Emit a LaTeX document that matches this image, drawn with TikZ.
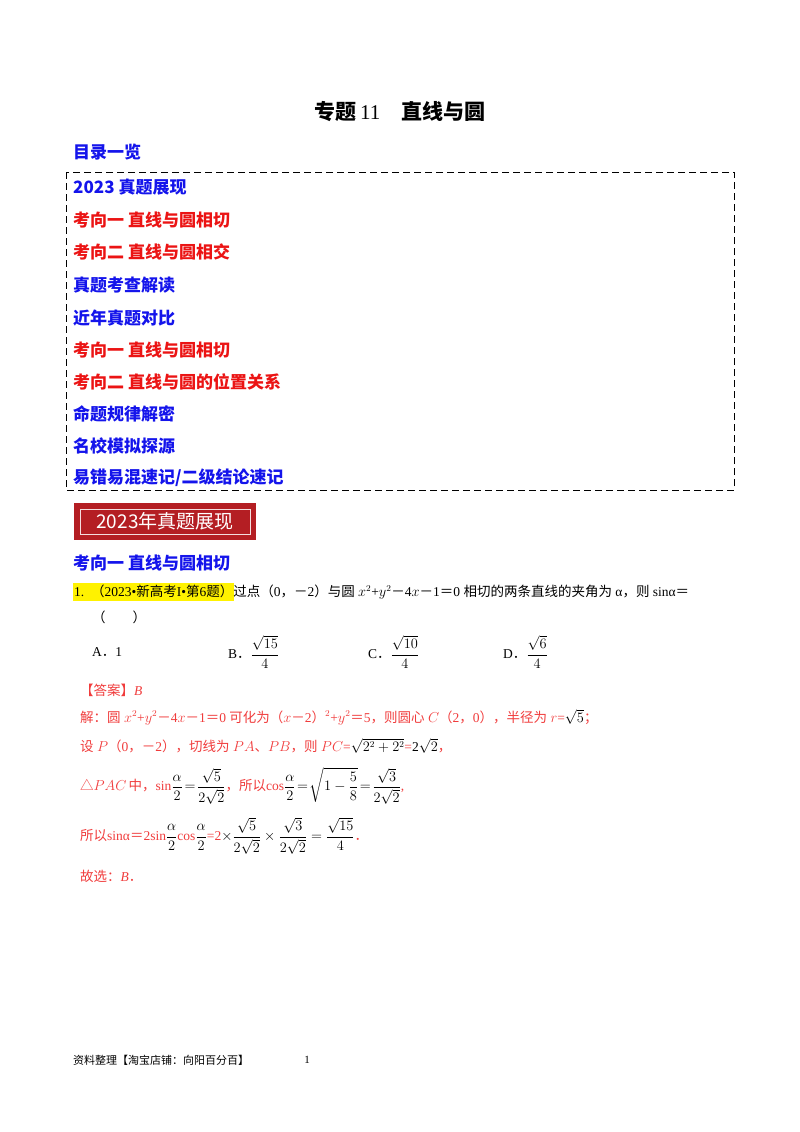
\documentclass[tikz,border=0pt]{standalone}
\usepackage{fontspec}
\usepackage{amsmath}
\setmainfont{Liberation Serif}
\newfontfamily\cjk{Noto Sans CJK SC}
\newcommand\zh[1]{{\cjk #1}}
\definecolor{tblue}{RGB}{20,20,235}
\definecolor{tred}{RGB}{235,20,20}
\definecolor{ared}{RGB}{240,60,60}
\definecolor{ban}{RGB}{180,30,35}
\begin{document}
\begin{tikzpicture}[x=1pt,y=-1pt,
  toc/.style={anchor=west,inner sep=0,font=\cjk\bfseries\fontsize{17}{17}\selectfont},
  body/.style={anchor=west,inner sep=0,font=\fontsize{13.5}{13.5}\selectfont},
  ans/.style={anchor=west,inner sep=0,text=ared,font=\fontsize{13.5}{13.5}\selectfont}]
\useasboundingbox (0,0) rectangle (800,1132);
\node (title) at (400,112) {\cjk\bfseries\fontsize{21}{21}\selectfont 专题\,\rmfamily\mdseries 11\quad\cjk\bfseries 直线与圆};
\node[toc,text=tblue] (mulu) at (73,152) {目录一览};
\draw[thick,dash pattern=on 7pt off 4pt] (66,172) rectangle (734,490);
\node[toc,text=tblue] (t1) at (73,187) {2023 真题展现};
\node[toc,text=tred] (t2) at (73,220) {考向一\ 直线与圆相切};
\node[toc,text=tred] (t3) at (73,252) {考向二\ 直线与圆相交};
\node[toc,text=tblue] (t4) at (73,285) {真题考查解读};
\node[toc,text=tblue] (t5) at (73,318) {近年真题对比};
\node[toc,text=tred] (t6) at (73,350) {考向一\ 直线与圆相切};
\node[toc,text=tred] (t7) at (73,382) {考向二\ 直线与圆的位置关系};
\node[toc,text=tblue] (t8) at (73,414) {命题规律解密};
\node[toc,text=tblue] (t9) at (73,446) {名校模拟探源};
\node[toc,text=tblue] (t10) at (73,478) {易错易混速记/二级结论速记};
% banner
\fill[ban] (74,503) rectangle (256,540);
\draw[ban,line width=1.2] (78,507) -- (252,507) -- (252,512) -- (255,512) -- (255,531) -- (252,531) -- (252,536) -- (78,536) -- (78,531) -- (75,531) -- (75,512) -- (78,512) -- cycle;
\draw[white!85!ban,line width=0.8] (80,509) rectangle (250,534);
\node[text=white,font=\cjk\fontsize{19}{19}\selectfont] (ban) at (165,521) {2023年真题展现};
\node[toc,text=tblue] (kx) at (73,563) {考向一\ 直线与圆相切};
\fill[yellow] (73,583) rectangle (234,601);
\node[body] (q) at (74,592) {1.\ \ \zh{（}2023\textbullet\zh{新高考}I\textbullet\zh{第}6\zh{题）}\zh{过点（}0\zh{，－}2\zh{）与圆} $x^2$+$y^2$\zh{－}4$x$\zh{－}1\zh{＝}0 \zh{相切的两条直线的夹角为} α\zh{，则} sinα\zh{＝}};
\node[body] (paren) at (92,617) {\zh{（\qquad）}};
\node[body] (oa) at (92,652) {A\zh{．}1};
\node[body] (ob) at (228,652) {B\zh{．}$\dfrac{\sqrt{15}}{4}$};
\node[body] (oc) at (368,652) {C\zh{．}$\dfrac{\sqrt{10}}{4}$};
\node[body] (od) at (503,652) {D\zh{．}$\dfrac{\sqrt{6}}{4}$};
\node[ans] (a0) at (80,690) {\zh{【答案】}\itshape B};
\node[ans] (a1) at (80,717) {\zh{解：圆} $x^2$+$y^2$\zh{－}4$x$\zh{－}1\zh{＝}0 \zh{可化为（}$x$\zh{－}2\zh{）}$^2$+$y^2$\zh{＝}5\zh{，则圆心} $C$\zh{（}2\zh{，}0\zh{），半径为} $r$=\textcolor{black}{$\sqrt{5}$}\zh{；}};
\node[ans] (a2) at (80,746) {\zh{设} $P$\zh{（}0\zh{，－}2\zh{），切线为} $PA$\zh{、}$PB$\zh{，则} $PC$=\textcolor{black}{$\sqrt{2^2+2^2}$}=\textcolor{black}{2$\sqrt{2}$}\zh{，}};
\node[ans] (a3) at (80,786) {\zh{△}$PAC$\,\zh{中，}sin\textcolor{black}{$\dfrac{\alpha}{2}\!=\!\dfrac{\sqrt5}{2\sqrt2}$}\zh{，所以}cos\textcolor{black}{$\dfrac{\alpha}{2}\!=\!\sqrt{1-\dfrac58}\!=\!\dfrac{\sqrt3}{2\sqrt2}$},};
\node[ans] (a4) at (80,836) {\zh{所以}sinα\zh{＝}2sin\textcolor{black}{$\dfrac{\alpha}{2}$}cos\textcolor{black}{$\dfrac{\alpha}{2}$}=2\textcolor{black}{$\times\dfrac{\sqrt5}{2\sqrt2}\times\dfrac{\sqrt3}{2\sqrt2}=\dfrac{\sqrt{15}}{4}$}\zh{．}};
\node[ans] (a5) at (80,876) {\zh{故选：}\itshape B\upshape\zh{．}};
\node[anchor=west,inner sep=0,font=\cjk\fontsize{11}{11}\selectfont] (foot) at (73,1060) {资料整理【淘宝店铺：向阳百分百】};
\node[inner sep=0,font=\fontsize{11}{11}\selectfont] (pg) at (307,1060) {1};
\end{tikzpicture}
\end{document}
